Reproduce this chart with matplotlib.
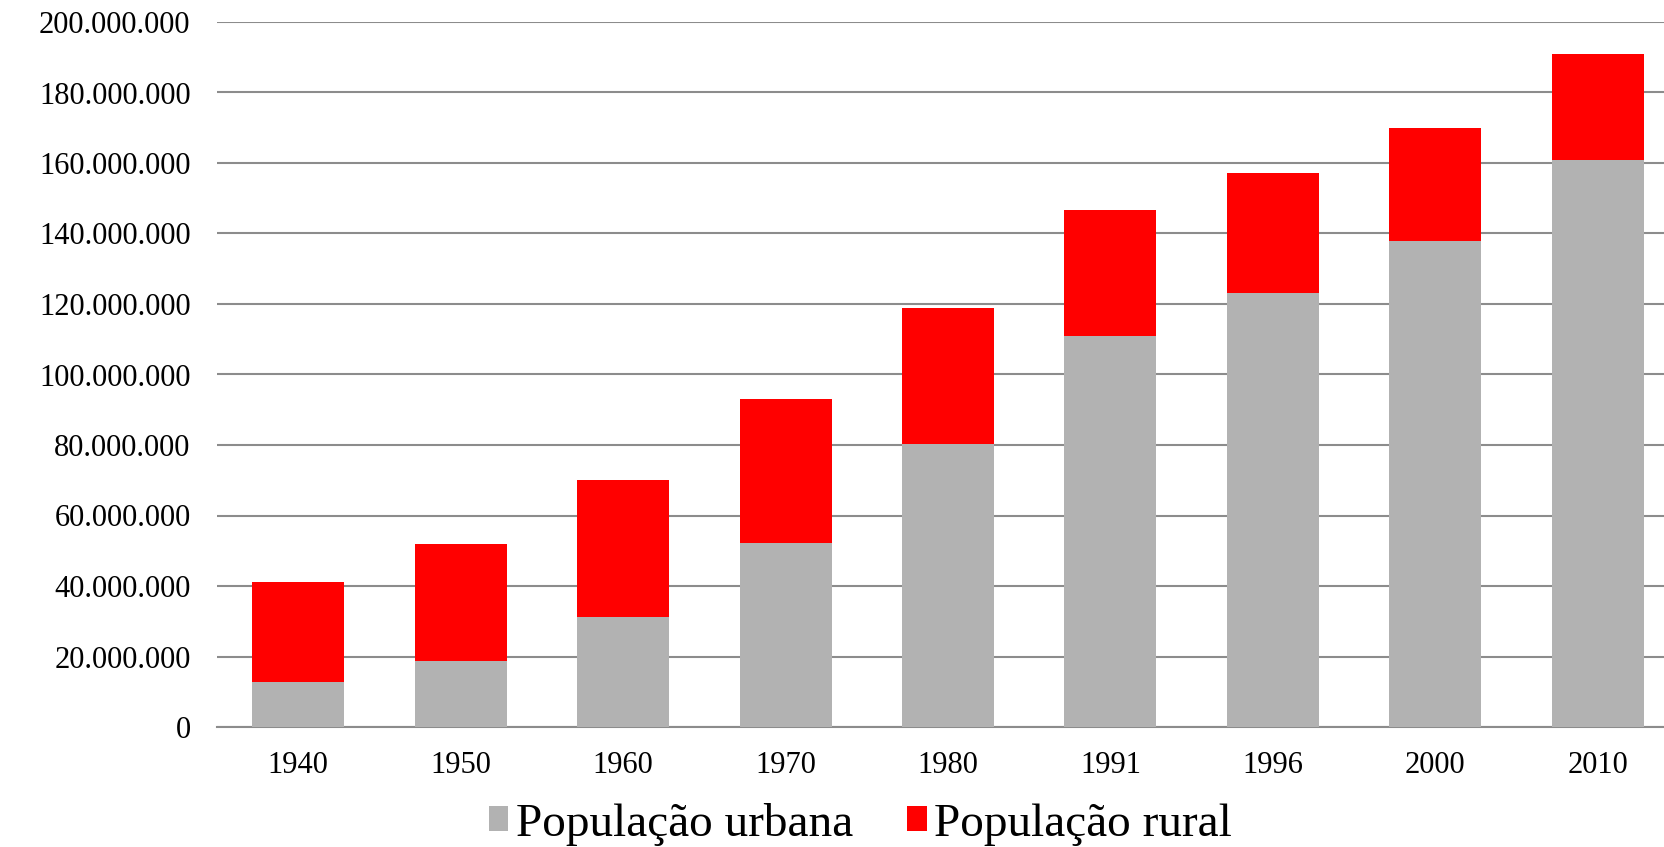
import matplotlib
matplotlib.use("Agg")
import matplotlib.pyplot as plt
from matplotlib.ticker import FuncFormatter

# dados (milhões de habitantes)
anos = ["1940", "1950", "1960", "1970", "1980", "1991", "1996", "2000", "2010"]
urbana = [12.9, 18.8, 31.3, 52.1, 80.4, 111.0, 123.1, 137.9, 160.9]
rural = [28.3, 33.1, 38.8, 41.0, 38.6, 35.8, 34.0, 31.9, 29.9]

urbana = [v * 1e6 for v in urbana]
rural = [v * 1e6 for v in rural]

plt.rcParams['font.family'] = ['Liberation Serif', 'DejaVu Serif']

fig = plt.figure(figsize=(16.64, 8.47), dpi=100)
ax = fig.add_axes([217 / 1664, 120 / 847, 1462 / 1664, 705 / 847])

x = range(len(anos))
ax.bar(x, urbana, width=0.567, color="#b2b2b2", label="População urbana", zorder=3)
ax.bar(x, rural, width=0.567, bottom=urbana, color="#ff0000", label="População rural", zorder=3)

ax.set_xlim(-0.5, len(anos) - 0.5)
ax.set_ylim(0, 200e6)
ax.set_yticks([i * 20e6 for i in range(11)])
ax.yaxis.set_major_formatter(FuncFormatter(lambda v, p: f"{int(v):,}".replace(",", ".")))
ax.set_xticks(list(x))
ax.set_xticklabels(anos)

ax.grid(axis="y", color="#8c8c8c", linewidth=1.5, zorder=0)
ax.tick_params(axis="both", length=0, labelsize=22)
ax.tick_params(axis="y", pad=19)
ax.tick_params(axis="x", pad=17)
for s in ["top", "right", "left"]:
    ax.spines[s].set_visible(False)
ax.spines["bottom"].set_color("#8c8c8c")
ax.spines["bottom"].set_linewidth(1.5)

leg = fig.legend(loc="center", bbox_to_anchor=(0.517, 1 - 824 / 847), ncol=2,
                 frameon=False, fontsize=34, handlelength=0.42, handleheight=0.42,
                 handletextpad=0.15, columnspacing=1.15)

fig.savefig("out.png", dpi=100)
